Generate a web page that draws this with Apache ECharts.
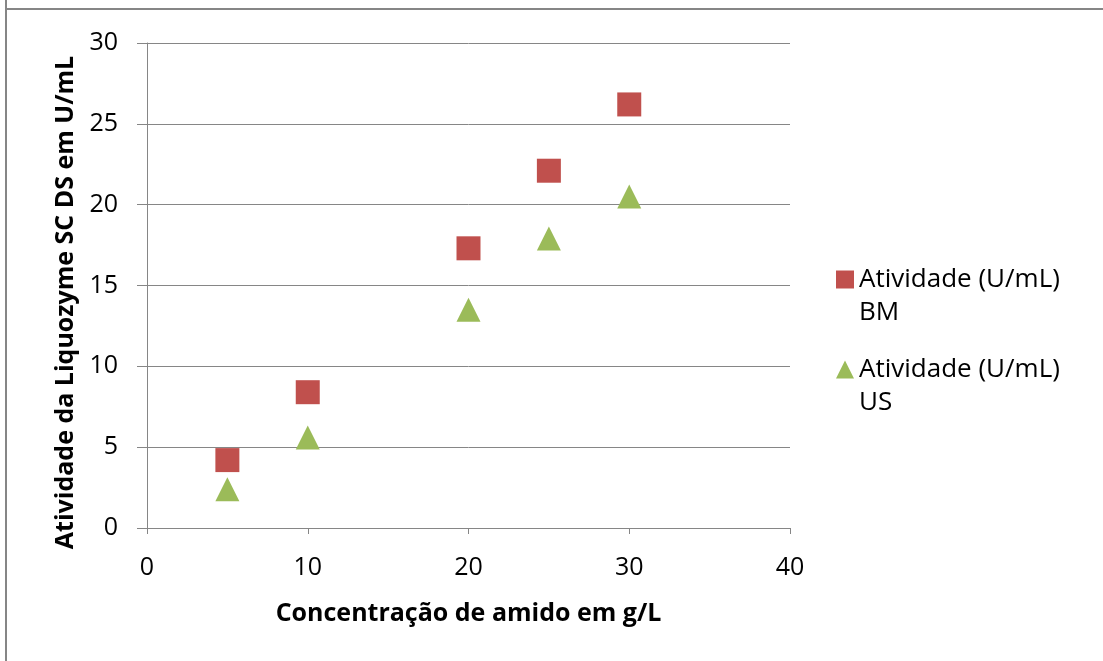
<!DOCTYPE html>
<html>
<head>
<meta charset="utf-8">
<style>html,body{margin:0;padding:0;background:#fff}#c{width:1103px;height:661px}</style>
<script src="https://cdn.jsdelivr.net/npm/echarts@6/dist/echarts.min.js"></script>
</head>
<body>
<div id="c"></div>
<script>
var concentracao = [5, 10, 20, 25, 30];
var atividadeBM = [4.2, 8.4, 17.3, 22.1, 26.2];
var atividadeUS = [2.4, 5.6, 13.5, 17.9, 20.5];
var nomeBM = 'Atividade (U/mL)\nBM';
var nomeUS = 'Atividade (U/mL)\nUS';
var xTitulo = 'Concentração de amido em g/L';
var yTitulo = 'Atividade da Liquozyme SC DS em U/mL';

function pares(xs, ys) { return xs.map(function (x, i) { return [x, ys[i]]; }); }

var font = '"Open Sans", "Noto Sans", sans-serif';
var chart = echarts.init(document.getElementById('c'), null, {renderer: 'canvas'});
chart.setOption({
  animation: false,
  backgroundColor: '#fff',
  textStyle: {fontFamily: font},
  graphic: [
    {type: 'line', shape: {x1: 6, y1: 0, x2: 6, y2: 661}, style: {stroke: '#868686', lineWidth: 2}},
    {type: 'line', shape: {x1: 6, y1: 9, x2: 1103, y2: 9}, style: {stroke: '#868686', lineWidth: 2}}
  ],
  grid: {left: 147, right: 313, top: 43, bottom: 133, containLabel: false},
  xAxis: {
    type: 'value', min: 0, max: 40, interval: 10,
    name: xTitulo, nameLocation: 'middle', nameGap: 73,
    nameTextStyle: {fontSize: 25, fontWeight: 'bold', color: '#000', fontFamily: font},
    axisLine: {show: true, lineStyle: {color: '#868686', width: 1}},
    axisTick: {show: true, length: 6, lineStyle: {color: '#868686'}},
    axisLabel: {fontSize: 25, color: '#000', margin: 27, fontFamily: font},
    splitLine: {show: false}
  },
  yAxis: {
    type: 'value', min: 0, max: 30, interval: 5,
    name: yTitulo, nameLocation: 'middle', nameGap: 66, nameRotate: 90,
    nameTextStyle: {fontSize: 25, fontWeight: 'bold', color: '#000', fontFamily: font, padding: [0, 34, 0, 0]},
    axisLine: {show: true, lineStyle: {color: '#868686', width: 1}},
    axisTick: {show: true, length: 10, inside: false, lineStyle: {color: '#868686'}},
    axisLabel: {fontSize: 25, color: '#000', margin: 29, fontFamily: font},
    splitLine: {show: true, lineStyle: {color: '#868686', width: 1}}
  },
  legend: {
    orient: 'vertical', left: 836, top: 230, padding: 0,
    itemWidth: 18, itemHeight: 18, itemGap: -9,
    formatter: function (name) { return '\n' + name; },
    textStyle: {fontSize: 26, color: '#000', lineHeight: 33, fontFamily: font},
    data: [
      {name: nomeBM, icon: 'rect'},
      {name: nomeUS, icon: 'triangle'}
    ]
  },
  series: [
    {name: nomeBM, type: 'scatter', symbol: 'rect', symbolSize: 24,
     itemStyle: {color: '#C0504D', opacity: 1}, data: pares(concentracao, atividadeBM)},
    {name: nomeUS, type: 'scatter', symbol: 'triangle', symbolSize: 24,
     itemStyle: {color: '#9BBB59', opacity: 1}, data: pares(concentracao, atividadeUS)}
  ]
});
</script>
</body>
</html>
